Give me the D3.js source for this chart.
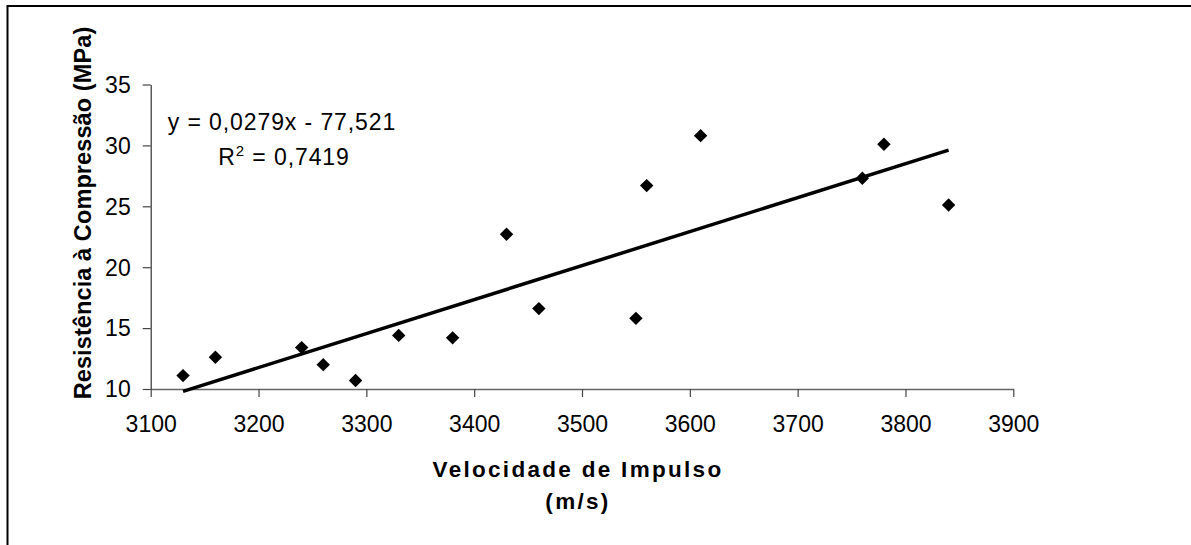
<!DOCTYPE html>
<html>
<head>
<meta charset="utf-8">
<script src="https://cdn.jsdelivr.net/npm/d3@7/dist/d3.min.js"></script>
<style>
  html, body { margin: 0; padding: 0; background: #fff; }
  svg { display: block; font-family: "Liberation Sans", Arial, sans-serif; }
</style>
</head>
<body>
<svg id="chart" width="1191" height="545"></svg>
<script>
// ---- data ----
const velocidade = [3130, 3160, 3240, 3260, 3290, 3330, 3380, 3430, 3460, 3550, 3560, 3610, 3760, 3780, 3840];
const resistencia = [11.1, 12.6, 13.4, 12.0, 10.7, 14.4, 14.2, 22.7, 16.6, 15.8, 26.7, 30.8, 27.3, 30.1, 25.1];
const xTicks = [3100, 3200, 3300, 3400, 3500, 3600, 3700, 3800, 3900];
const yTicks = [10, 15, 20, 25, 30, 35];
const trendSlope = 0.0279;
const trendIntercept = -77.521;
const equationLabel = "y = 0,0279x - 77,521";
const r2Value = "0,7419";
const xTitleLines = ["Velocidade de Impulso", "(m/s)"];
const yTitle = "Resistência à Compressão (MPa)";

// ---- layout ----
const svg = d3.select("#chart");
const plotLeft = 150.7, plotRight = 1013.3, plotTop = 84.5, plotBottom = 389;

const x = d3.scaleLinear().domain([3100, 3900]).range([plotLeft, plotRight]);
const y = d3.scaleLinear().domain([10, 35]).range([plotBottom, plotTop]);

// outer border (extends beyond viewport on right/bottom)
svg.append("rect")
  .attr("x", 7.5).attr("y", 6).attr("width", 1300).attr("height", 700)
  .attr("fill", "none").attr("stroke", "#000").attr("stroke-width", 2);

// axes
const xAxis = d3.axisBottom(x).tickValues(xTicks).tickFormat(d3.format("d"))
  .tickSizeInner(8).tickSizeOuter(0).tickPadding(20);
const gx = svg.append("g").attr("transform", `translate(0,${plotBottom})`).call(xAxis);
gx.select(".domain").attr("stroke", "#666").attr("stroke-width", 1.3);
gx.selectAll(".tick line").attr("stroke", "#444").attr("stroke-width", 1.2);
gx.selectAll(".tick text").attr("font-size", 23).attr("fill", "#000")
  .attr("font-family", "Liberation Sans, Arial, sans-serif").attr("dy", "0").attr("y", 43);

const yAxis = d3.axisLeft(y).tickValues(yTicks).tickFormat(d3.format("d"))
  .tickSizeInner(8).tickSizeOuter(0).tickPadding(13);
const gy = svg.append("g").attr("transform", `translate(${plotLeft},0)`).call(yAxis);
gy.select(".domain").attr("stroke", "#333").attr("stroke-width", 1.2);
gy.selectAll(".tick line").attr("stroke", "#444").attr("stroke-width", 1.2);
gy.selectAll(".tick text").attr("font-size", 23).attr("fill", "#000")
  .attr("font-family", "Liberation Sans, Arial, sans-serif").attr("dy", "0.34em").attr("x", -20);

// trendline across data range
const xMin = d3.min(velocidade), xMax = d3.max(velocidade);
const trend = [xMin, xMax].map(v => [v, trendSlope * v + trendIntercept]);
svg.append("path")
  .datum(trend)
  .attr("d", d3.line().x(d => x(d[0])).y(d => y(d[1])))
  .attr("fill", "none").attr("stroke", "#000").attr("stroke-width", 3.5);

// markers
const diamond = d3.symbol().type(d3.symbolSquare).size(90);
svg.append("g").selectAll("path")
  .data(velocidade.map((v, i) => [v, resistencia[i]]))
  .join("path")
  .attr("d", diamond)
  .attr("transform", d => `translate(${x(d[0])},${y(d[1])}) rotate(45)`)
  .attr("fill", "#000");

// equation labels
svg.append("text")
  .attr("x", 282).attr("y", 130).attr("text-anchor", "middle")
  .attr("font-size", 23).attr("letter-spacing", "0.9px")
  .text(equationLabel);
const r2 = svg.append("text")
  .attr("x", 284).attr("y", 165).attr("text-anchor", "middle")
  .attr("font-size", 23).attr("letter-spacing", "0.9px");
r2.append("tspan").text("R");
r2.append("tspan").attr("font-size", 15).attr("dy", -9).text("2");
r2.append("tspan").attr("dy", 9).text(" = " + r2Value);

// x axis title
svg.append("g").selectAll("text")
  .data(xTitleLines)
  .join("text")
  .attr("x", 578).attr("y", (d, i) => 477 + i * 32)
  .attr("text-anchor", "middle")
  .attr("font-size", 22.5).attr("font-weight", "bold").attr("letter-spacing", "2.3px")
  .text(d => d);

// y axis title
svg.append("text")
  .attr("transform", "translate(91,213) rotate(-90)")
  .attr("text-anchor", "middle")
  .attr("font-size", 23.5).attr("font-weight", "bold").attr("letter-spacing", "0.1px")
  .text(yTitle);
</script>
</body>
</html>
